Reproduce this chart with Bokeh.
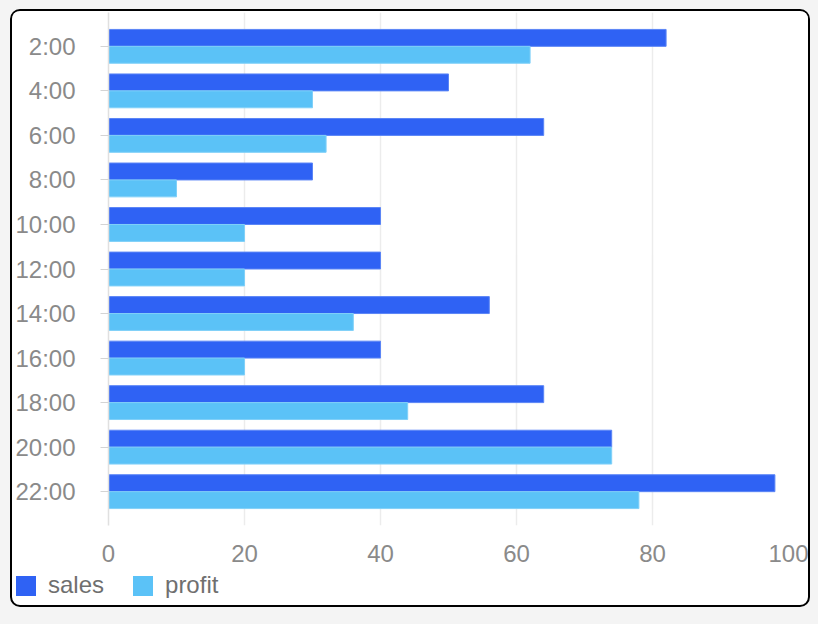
from bokeh.plotting import figure
from bokeh.layouts import column
from bokeh.models import FactorRange, Range1d, FixedTicker, ColumnDataSource, Div
from bokeh.transform import dodge
from bokeh.embed import file_html
from bokeh.resources import INLINE

hours = ["2:00", "4:00", "6:00", "8:00", "10:00", "12:00", "14:00", "16:00", "18:00", "20:00", "22:00"]
sales = [82, 50, 64, 30, 40, 40, 56, 40, 64, 74, 98]
profit = [62, 30, 32, 10, 20, 20, 36, 20, 44, 74, 78]
x_ticks = [0, 20, 40, 60, 80, 100]
series_names = ["sales", "profit"]

SALES_C = "#2f62f4"
PROFIT_C = "#5bc2f7"
SALES_LINE = "#5b85f6"
PROFIT_LINE = "#80d0f8"
FONT = "Liberation Sans"

src = ColumnDataSource(dict(hour=hours, sales=sales, profit=profit))

p = figure(frame_width=680, frame_height=513,
           y_range=FactorRange(factors=hours[::-1], range_padding=0.26, range_padding_units="absolute"),
           x_range=Range1d(0, 100),
           output_backend="svg", toolbar_location=None,
           min_border_left=96, min_border_right=20, min_border_top=1, min_border_bottom=44)
p.outline_line_color = None
p.background_fill_color = "white"
p.border_fill_color = "white"

p.hbar(y=dodge("hour", 0.19, range=p.y_range), right="sales", left=0, height=0.38,
       source=src, fill_color=SALES_C, line_color=SALES_LINE, line_width=1)
p.hbar(y=dodge("hour", -0.19, range=p.y_range), right="profit", left=0, height=0.38,
       source=src, fill_color=PROFIT_C, line_color=PROFIT_LINE, line_width=1)

# x axis
xa = p.xaxis[0]
xa.ticker = FixedTicker(ticks=x_ticks)
xa.axis_line_color = None
xa.major_tick_line_color = None
xa.minor_tick_line_color = None
xa.major_label_text_font = FONT
xa.major_label_text_font_size = "24px"
xa.major_label_text_color = "#8a8a8a"
xa.major_label_standoff = 13

# y axis
ya = p.yaxis[0]
ya.axis_line_color = "#e0e0e0"
ya.axis_line_width = 1.5
ya.major_tick_line_color = "#d4d4d4"
ya.major_tick_out = 8
ya.major_tick_in = 0
ya.major_label_text_font = FONT
ya.major_label_text_font_size = "24px"
ya.major_label_text_color = "#8a8a8a"
ya.major_label_standoff = 25

p.ygrid.grid_line_color = None
p.xgrid.grid_line_color = "#ececec"
p.xgrid.grid_line_width = 1.5

# legend row (HTML, below the plot, flush left)
items_html = ""
for i, (name, col) in enumerate(zip(series_names, [SALES_C, PROFIT_C])):
    gap = "margin-left:29px;" if i > 0 else ""
    items_html += (f'<span style="display:inline-block;width:20px;height:20px;background:{col};'
                   f'margin-right:12px;{gap}"></span><span>{name}</span>')
legend_html = (f'<div style="display:flex;align-items:center;height:33px;padding-left:4px;'
               f'font-family:\'{FONT}\';font-size:24px;color:#6f6f6f;white-space:nowrap;">'
               f'{items_html}</div>')
lg = Div(text=legend_html, width=796, height=36, margin=0)

layout = column(p, lg, spacing=0)
layout.margin = (9, 0, 0, 10)
layout.styles = {"border": "2px solid #000", "border-radius": "10px", "overflow": "hidden",
                 "background": "white", "box-shadow": "0 0 0 40px #f4f4f4"}

open("out.html", "w").write(file_html(layout, INLINE))
